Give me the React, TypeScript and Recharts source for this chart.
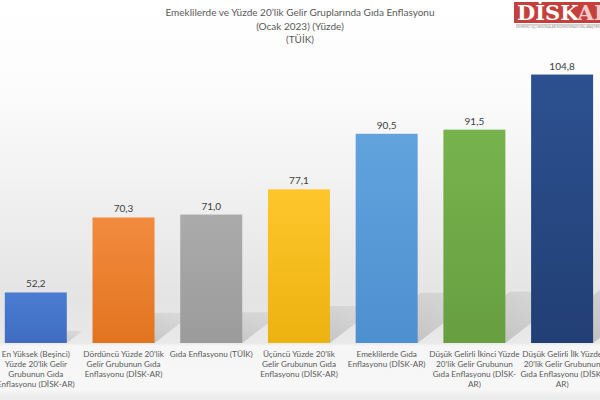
import { Bar, BarChart, LabelList, XAxis, YAxis } from "recharts";

const CATEGORIES = [
  "En Yüksek (Beşinci) Yüzde 20'lik Gelir Grubunun Gıda Enflasyonu (DİSK-AR)",
  "Dördüncü Yüzde 20'lik Gelir Grubunun Gıda Enflasyonu (DİSK-AR)",
  "Gıda Enflasyonu (TÜİK)",
  "Üçüncü Yüzde 20'lik Gelir Grubunun Gıda Enflasyonu (DİSK-AR)",
  "Emeklilerde Gıda Enflasyonu (DİSK-AR)",
  "Düşük Gelirli İkinci Yüzde 20'lik Gelir Grubunun Gıda Enflasyonu (DİSK-AR)",
  "Düşük Gelirli İlk Yüzde 20'lik Gelir Grubunun Gıda Enflasyonu (DİSK-AR)",
];

const TICK_LINES = [
  ["En Yüksek (Beşinci)", "Yüzde 20'lik Gelir", "Grubunun Gıda", "Enflasyonu (DİSK-AR)"],
  ["Dördüncü Yüzde 20'lik", "Gelir Grubunun Gıda", "Enflasyonu (DİSK-AR)"],
  ["Gıda Enflasyonu (TÜİK)"],
  ["Üçüncü Yüzde 20'lik", "Gelir Grubunun Gıda", "Enflasyonu (DİSK-AR)"],
  ["Emeklilerde Gıda", "Enflasyonu (DİSK-AR)"],
  ["Düşük Gelirli İkinci Yüzde", "20'lik Gelir Grubunun", "Gıda Enflasyonu (DİSK-", "AR)"],
  ["Düşük Gelirli İlk Yüzde", "20'lik Gelir Grubunun", "Gıda Enflasyonu (DİSK-", "AR)"],
];

const VALUES = [52.2, 70.3, 71.0, 77.1, 90.5, 91.5, 104.8];

// top / bottom colour of each bar
const TOP_COLORS = ["#4a7dd2", "#f28b3f", "#ababab", "#ffc62c", "#62a3de", "#77b34d", "#2d5190"];
const BOTTOM_COLORS = ["#3f6cc0", "#e2741f", "#9b9b9b", "#ecb20f", "#4d90d0", "#679f40", "#213f75"];

const TITLE = [
  "Emeklilerde ve Yüzde 20’lik Gelir Gruplarında Gıda Enflasyonu",
  "(Ocak 2023) (Yüzde)",
  "(TÜİK)",
];

const data = CATEGORIES.map((name, i) => ({ name, value: VALUES[i] }));

const FONT = "Lato, 'Open Sans', sans-serif";

function BarWithShadow(props: any) {
  const { x, y, width, height, index } = props;
  const bottom = y + height;
  const s = height * 0.24;
  const d = s * 1.3;
  return (
    <g>
      <polygon
        points={`${x},${bottom} ${x + width},${bottom} ${x + width + d},${bottom - s} ${x + d},${bottom - s}`}
        fill="url(#shadow)"
      />
      <rect x={x} y={y} width={width} height={height} fill={`url(#bar${index})`} />
    </g>
  );
}

function Tick(props: any) {
  const { x, payload } = props;
  const lines = TICK_LINES[payload.index] || [];
  return (
    <text x={x} y={343} textAnchor="middle" fontSize={8.2} fill="#5a5a5a" fontFamily={FONT}>
      {lines.map((l, i) => (
        <tspan key={i} x={x} y={357 + i * 10}>
          {l}
        </tspan>
      ))}
    </text>
  );
}

export default function App() {
  return (
    <div
      style={{
        position: "fixed",
        left: 0,
        top: 0,
        width: 600,
        height: 400,
        overflow: "hidden",
        background:
          "linear-gradient(to bottom, #ffffff 0px, #fcfcfc 90px, #ededed 220px, #e4e4e4 300px, #e9e9e9 343px, #f6f6f6 346px, #f7f7f7 390px, #ececec 396px)",
        fontFamily: FONT,
      }}
    >
      <div style={{ position: "absolute", left: 0, top: 6, width: 600, textAlign: "center", color: "#595959", fontSize: 10, lineHeight: "13.5px" }}>
        {TITLE.map((t) => (
          <div key={t}>{t}</div>
        ))}
      </div>
      <div
        style={{
          position: "absolute",
          left: 514,
          top: 2,
          width: 100,
          height: 21,
          background: "#c4403c",
          color: "#ffffff",
          fontWeight: 700,
          fontSize: 21,
          lineHeight: "22px",
          paddingLeft: 3,
          fontFamily: "'DejaVu Serif', serif",
          whiteSpace: "nowrap",
        }}
      >
        DİSK<span style={{ color: "#f1c9c8" }}>AR</span>
      </div>
      <div
        style={{
          position: "absolute",
          left: 516,
          top: 24,
          width: 90,
          borderTop: "1px solid #d0d0d0",
          fontSize: 3,
          lineHeight: "4px",
          color: "#888",
          whiteSpace: "nowrap",
        }}
      >
        DEVRİMCİ İŞÇİ SENDİKALARI KONFEDERASYONU ARAŞTIRMA ENSTİTÜSÜ
      </div>
      <BarChart
        width={614}
        height={400}
        data={data}
        margin={{ top: 53, right: 0, bottom: 0, left: 0 }}
        barCategoryGap="14.6%"
        style={{ position: "absolute", left: -8, top: 0 }}
      >
        <defs>
          {TOP_COLORS.map((c, i) => (
            <linearGradient key={i} id={`bar${i}`} x1="0" y1="0" x2="0" y2="1">
              <stop offset="0%" stopColor={c} />
              <stop offset="100%" stopColor={BOTTOM_COLORS[i]} />
            </linearGradient>
          ))}
          <linearGradient id="shadow" x1="0" y1="1" x2="1" y2="0">
            <stop offset="0%" stopColor="#a8a8a8" stopOpacity={0.75} />
            <stop offset="100%" stopColor="#c4c4c4" stopOpacity={0.35} />
          </linearGradient>
        </defs>
        <XAxis dataKey="name" height={57} axisLine={false} tickLine={false} interval={0} tick={<Tick />} />
        <YAxis hide domain={[40, 110]} allowDataOverflow />
        <Bar dataKey="value" shape={<BarWithShadow />} isAnimationActive={false}>
          <LabelList
            dataKey="value"
            position="top"
            offset={5}
            fontSize={10}
            fill="#404040"
            fontFamily={FONT}
            formatter={(v: any) => Number(v).toFixed(1).replace(".", ",")}
          />
        </Bar>
      </BarChart>
    </div>
  );
}
